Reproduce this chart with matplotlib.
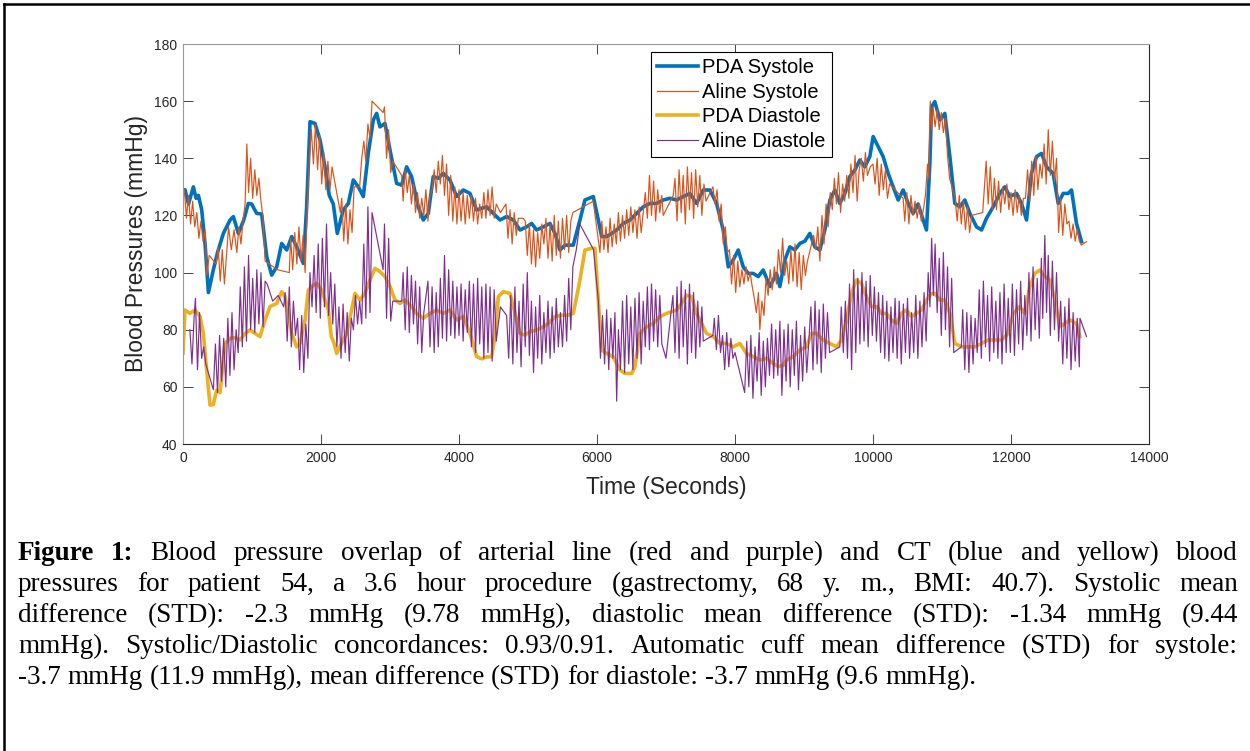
import matplotlib
matplotlib.use("Agg")
import matplotlib.pyplot as plt
from matplotlib.lines import Line2D

plt.rcParams['font.family'] = 'Liberation Sans'

# (time s, mmHg)
pda_sys = [(0, 128), (29, 129), (80, 124), (150, 130), (190, 126), (223, 127), (271, 122), (320, 110), (368, 93),
           (440, 101), (500, 107), (585, 113.7), (682, 118.4), (730, 119.6), (802, 113.7), (875, 118), (947, 124.2),
           (995, 124), (1068, 120.7), (1140, 120.5), (1213, 105.6), (1285, 99.1), (1358, 102), (1430, 110.2),
           (1503, 107.9), (1575, 112.6), (1648, 109), (1744, 103.2), (1792, 123), (1841, 152.8), (1913, 152.2),
           (1986, 146.4), (2058, 137), (2120, 127), (2178, 124), (2236, 113.7), (2323, 121.9), (2396, 124.2),
           (2468, 132.4), (2541, 130), (2613, 126.6), (2685, 141.7), (2758, 153.4), (2806, 155.7), (2855, 151),
           (2927, 152.2), (3000, 142.9), (3096, 131.2), (3168, 130.6), (3241, 137), (3313, 133.6), (3410, 123),
           (3482, 118.4), (3555, 120.7), (3627, 133.6), (3700, 133), (3772, 134.7), (3869, 132.4), (3965, 126.6),
           (4062, 128.9), (4159, 127.7), (4255, 121.9), (4328, 122.5), (4401, 123), (4497, 120.7), (4594, 118.4),
           (4690, 119.6), (4787, 118.4), (4884, 114.9), (4980, 116), (5053, 117.2), (5125, 114.9), (5222, 116),
           (5318, 117.2), (5391, 113.7), (5463, 107.9), (5536, 109.6), (5584, 109.6), (5656, 109.6), (5753, 118.4),
           (5825, 125.4), (5946, 126.6), (6019, 118.4), (6067, 112.6), (6139, 112.6), (6212, 113.7), (6284, 114.9),
           (6381, 117.2), (6478, 118.4), (6574, 120.7), (6670, 123), (6767, 124.2), (6863, 124.2), (6960, 125.4),
           (7057, 126), (7153, 125.4), (7250, 126.6), (7346, 127.7), (7443, 124.2), (7540, 128.9), (7636, 128.9),
           (7733, 124.2), (7829, 114.9), (7902, 102), (7974, 104.4), (8047, 107.9), (8119, 102), (8192, 99.7),
           (8264, 99.7), (8337, 98.6), (8409, 100.9), (8506, 95.1), (8602, 99.7), (8650, 95.1), (8722, 104.4),
           (8795, 109), (8867, 107.9), (8940, 110.2), (9012, 111), (9085, 113.7), (9157, 109), (9230, 107.9),
           (9302, 114.9), (9375, 125.4), (9447, 128.9), (9519, 124.2), (9592, 127.7), (9664, 133.6), (9737, 135.9),
           (9809, 139.4), (9882, 137), (9954, 140.6), (10002, 147.6), (10075, 144.1), (10147, 140.6), (10220, 134.7),
           (10292, 130), (10365, 125.4), (10437, 128.9), (10510, 124.2), (10582, 120.7), (10654, 124), (10727, 118.4),
           (10775, 114.9), (10824, 138.2), (10848, 158), (10896, 159.8), (10969, 153.4), (11041, 155.7),
           (11114, 140.6), (11186, 124.2), (11259, 123), (11331, 125.4), (11404, 120.7), (11500, 116), (11573, 114.9),
           (11645, 119), (11742, 123), (11838, 127.7), (11911, 130), (11983, 126.6), (12080, 127.7), (12152, 124.2),
           (12225, 118.4), (12297, 134.7), (12370, 140.6), (12442, 141.7), (12515, 137), (12611, 134.7),
           (12684, 124.2), (12756, 127.7), (12828, 127.7), (12877, 128.9), (12949, 117.2), (13022, 110.8)]

aline_sys = [(20, 129), (50, 119), (80, 127), (110, 117), (140, 125), (170, 116), (200, 121), (230, 112), (260, 118),
             (290, 111), (320, 115), (345, 99), (380, 106), (480, 103), (510, 109), (540, 97), (570, 108), (600, 96),
             (630, 106), (660, 116), (700, 108), (740, 115), (780, 107), (810, 116), (840, 110), (870, 118),
             (900, 124), (925, 145), (950, 128), (980, 140), (1010, 126), (1040, 136), (1070, 127), (1100, 133),
             (1130, 125), (1160, 119), (1190, 104), (1370, 101), (1540, 100), (1560, 112), (1590, 101), (1620, 114),
             (1650, 103), (1680, 116), (1710, 104), (1740, 113), (1770, 100), (1800, 122), (1830, 140), (1860, 150),
             (1890, 138), (1920, 152), (1950, 136), (1980, 148), (2010, 131), (2040, 142), (2070, 129), (2100, 139),
             (2130, 129), (2160, 137), (2280, 121), (2300, 126), (2330, 111), (2360, 124), (2390, 110), (2420, 122),
             (2450, 114), (2480, 130), (2560, 130), (2590, 140), (2620, 146), (2650, 139), (2680, 152), (2710, 147),
             (2740, 160), (2900, 156), (2920, 158), (2950, 140), (2980, 150), (3010, 135), (3040, 139), (3170, 134),
             (3190, 125), (3220, 136), (3250, 128), (3280, 134), (3310, 124), (3340, 131), (3370, 121), (3400, 128),
             (3430, 119), (3460, 126), (3490, 120), (3520, 129), (3550, 118), (3580, 127), (3610, 129), (3640, 136),
             (3670, 128), (3700, 139), (3730, 131), (3760, 141), (3790, 127), (3820, 138), (3850, 120), (3880, 134),
             (3910, 118), (3940, 130), (3970, 117), (4000, 129), (4030, 118), (4060, 128), (4090, 117), (4120, 127),
             (4150, 119), (4180, 127), (4210, 118), (4240, 126), (4270, 117), (4300, 124), (4330, 119), (4360, 128),
             (4390, 119), (4420, 129), (4450, 120), (4480, 130), (4510, 119), (4540, 124), (4600, 121), (4680, 124),
             (4710, 112), (4740, 122), (4770, 110), (4800, 121), (4830, 113), (4860, 119), (4930, 119), (4960, 118),
             (4990, 106), (5020, 117), (5050, 103), (5080, 115), (5110, 102), (5140, 114), (5170, 105), (5200, 117),
             (5230, 110), (5260, 119), (5290, 105), (5320, 117), (5350, 104), (5380, 120), (5410, 106), (5440, 118),
             (5470, 105), (5500, 119), (5530, 108), (5560, 120), (5590, 107), (5620, 118), (5650, 121), (5946, 125),
             (6043, 107), (6070, 118), (6100, 108), (6130, 116), (6160, 107), (6190, 119), (6220, 109), (6250, 117),
             (6280, 110), (6310, 121), (6340, 111), (6370, 120), (6400, 112), (6430, 122), (6460, 113), (6490, 123),
             (6520, 114), (6550, 122), (6580, 112), (6610, 123), (6640, 114), (6670, 121), (6700, 128), (6730, 119),
             (6760, 134), (6790, 120), (6820, 132), (6850, 118), (6880, 129), (6910, 121), (6940, 127), (6960, 120),
             (7105, 127), (7130, 133), (7160, 118), (7190, 136), (7220, 121), (7250, 134), (7280, 117), (7310, 137),
             (7340, 122), (7370, 135), (7400, 119), (7430, 136), (7460, 123), (7490, 134), (7520, 120), (7550, 131),
             (7580, 125), (7680, 130), (7710, 124), (7740, 129), (7770, 118), (7800, 124), (7830, 110), (7860, 116),
             (7890, 107), (7920, 108), (7950, 96), (7980, 106), (8010, 93), (8040, 104), (8070, 95), (8100, 101),
             (8130, 96), (8160, 102), (8190, 97), (8220, 100), (8250, 95), (8280, 91), (8310, 86), (8340, 93),
             (8360, 80), (8390, 90), (8420, 85), (8450, 98), (8480, 92), (8510, 101), (8540, 94), (8570, 102),
             (8600, 96), (8630, 108), (8660, 100), (8690, 112), (8720, 99), (8750, 104), (8780, 96), (8810, 108),
             (8840, 97), (8870, 110), (8900, 95), (8930, 107), (8960, 94), (8990, 106), (9020, 99), (9050, 104),
             (9140, 113), (9170, 108), (9200, 116), (9230, 104), (9260, 120), (9290, 110), (9320, 124), (9350, 116),
             (9380, 128), (9410, 122), (9440, 133), (9470, 124), (9500, 135), (9530, 121), (9560, 131), (9590, 125),
             (9620, 134), (9650, 126), (9680, 138), (9710, 128), (9740, 141), (9770, 125), (9800, 136), (9830, 140),
             (9860, 132), (9890, 142), (9920, 134), (9960, 137), (10000, 138), (10030, 131), (10060, 140),
             (10090, 127), (10120, 138), (10150, 129), (10180, 136), (10210, 126), (10240, 131), (10437, 126),
             (10460, 118), (10490, 128), (10520, 117), (10550, 127), (10580, 120), (10610, 125), (10640, 119),
             (10670, 124), (10700, 118), (10730, 122), (10760, 127), (10790, 138), (10810, 133), (10830, 160),
             (10850, 150), (10870, 158), (10900, 151), (10930, 157), (10960, 150), (10990, 156), (11020, 149),
             (11050, 154), (11080, 141), (11110, 133), (11190, 126), (11220, 118), (11250, 127), (11280, 117),
             (11310, 125), (11340, 115), (11370, 123), (11400, 114), (11430, 120), (11590, 121), (11610, 128),
             (11640, 139), (11670, 124), (11700, 137), (11730, 122), (11760, 133), (11790, 122), (11820, 132),
             (11850, 121), (11880, 130), (11910, 124), (11940, 131), (11970, 122), (12000, 128), (12030, 120),
             (12060, 129), (12090, 121), (12120, 127), (12150, 120), (12180, 126), (12210, 126), (12240, 136),
             (12270, 125), (12300, 139), (12330, 127), (12360, 141), (12390, 129), (12420, 138), (12450, 133),
             (12480, 145), (12510, 131), (12540, 150), (12570, 134), (12600, 146), (12630, 132), (12660, 140),
             (12690, 114), (12720, 126), (12750, 113), (12780, 124), (12810, 117), (12840, 118), (12870, 112),
             (12900, 117), (12930, 111), (12960, 115), (12990, 111), (13020, 109.6), (13094, 110.8)]

pda_dia = [(0, 71.7), (29, 86.9), (102, 85.7), (174, 86.9), (247, 84.6), (295, 78.7), (343, 65.9), (392, 53.6),
           (440, 53.8), (488, 58.9), (537, 58), (609, 75.2), (682, 77), (754, 77.2), (826, 76.4), (899, 78.7),
           (971, 79.9), (1044, 78.7), (1116, 77.6), (1189, 83.4), (1261, 88.1), (1358, 89.2), (1430, 93.3),
           (1479, 91.6), (1527, 85.7), (1575, 78.7), (1648, 74), (1696, 75.2), (1768, 83.4), (1817, 93.9),
           (1865, 95.1), (1937, 96.2), (2010, 93.9), (2106, 86.9), (2150, 77.6), (2190, 75.2), (2227, 71.7),
           (2299, 75.2), (2372, 78.7), (2444, 86.9), (2492, 92.7), (2565, 90.4), (2637, 92.7), (2710, 97.4),
           (2782, 101.5), (2855, 100.3), (2927, 98.6), (3000, 95.1), (3072, 90.4), (3144, 89.2), (3217, 90.4),
           (3313, 88.1), (3386, 85.7), (3482, 84), (3579, 85.7), (3676, 86.9), (3772, 85.7), (3869, 86.9),
           (3965, 83.4), (4062, 84.6), (4159, 78.7), (4255, 70.6), (4328, 69.8), (4401, 70.5), (4473, 70.5),
           (4521, 77.6), (4570, 91.6), (4642, 93.3), (4739, 92.7), (4811, 85.7), (4884, 78.7), (4956, 78.1),
           (5029, 79.3), (5125, 79.9), (5222, 81), (5294, 82.2), (5391, 84.6), (5487, 85.1), (5584, 85.1),
           (5656, 85.7), (5753, 97.4), (5825, 107.9), (5922, 108.5), (5970, 108.5), (6019, 90.4), (6067, 72.9),
           (6139, 71.7), (6236, 70.5), (6333, 65.9), (6405, 64.7), (6502, 64.7), (6549, 67), (6622, 78.7),
           (6718, 81), (6815, 82.2), (6912, 84.6), (7008, 85.7), (7081, 86.3), (7153, 86.9), (7226, 89.2),
           (7298, 92.1), (7371, 91.6), (7443, 85.7), (7515, 82.2), (7588, 78.7), (7685, 77.6), (7781, 75.2),
           (7878, 75.2), (7974, 74), (8071, 75.2), (8167, 71.7), (8264, 70.6), (8361, 69.4), (8457, 70),
           (8554, 68.2), (8626, 67.1), (8699, 67.5), (8747, 69.4), (8843, 70.6), (8940, 72.9), (9036, 74),
           (9109, 78.7), (9181, 78.7), (9278, 76.4), (9375, 75.2), (9471, 74), (9544, 76.4), (9616, 83.4),
           (9689, 92.7), (9761, 97.4), (9833, 96.2), (9906, 91.6), (9978, 88.1), (10051, 88.1), (10123, 85.7),
           (10196, 85.7), (10268, 83.4), (10341, 82.2), (10413, 85.7), (10485, 86.9), (10558, 84.6), (10630, 85.7),
           (10703, 86.9), (10775, 90.4), (10848, 92.7), (10896, 92.7), (10969, 90.4), (11041, 90.4), (11114, 85.7),
           (11186, 75.2), (11283, 74), (11379, 74), (11476, 74), (11573, 75.2), (11669, 76.4), (11766, 76.4),
           (11863, 76.4), (11959, 78.7), (12032, 85.7), (12128, 88.1), (12201, 85.7), (12273, 95.1), (12346, 99.7),
           (12418, 100.9), (12491, 98.6), (12563, 97.4), (12636, 90.4), (12708, 81), (12780, 82.2), (12853, 83.4),
           (12949, 82.2), (12997, 77.6)]

aline_dia = [(100, 80), (130, 68), (160, 84), (180, 91), (210, 66), (240, 86), (270, 70), (300, 74), (330, 68),
             (440, 59), (470, 75), (500, 58), (530, 78), (560, 62), (590, 77), (620, 60), (650, 84), (680, 64),
             (710, 86), (740, 66), (770, 80), (800, 72), (830, 95), (860, 74), (890, 102), (920, 76), (950, 106),
             (980, 80), (1010, 98), (1040, 79), (1070, 101), (1100, 82), (1130, 100), (1160, 81), (1190, 97),
             (1220, 96), (1300, 90), (1380, 92), (1460, 88), (1480, 93), (1510, 76), (1540, 95), (1570, 74),
             (1600, 90), (1630, 78), (1660, 84), (1690, 66), (1720, 85), (1750, 65), (1780, 82), (1810, 70),
             (1840, 100), (1870, 88), (1900, 106), (1930, 86), (1960, 110), (1990, 84), (2020, 112), (2050, 88),
             (2080, 117), (2110, 85), (2140, 100), (2170, 82), (2200, 96), (2230, 74), (2260, 88), (2290, 70),
             (2320, 89), (2350, 72), (2380, 86), (2410, 69), (2440, 84), (2470, 80), (2500, 92), (2530, 82),
             (2560, 90), (2590, 82), (2620, 110), (2650, 84), (2680, 123), (2710, 86), (2740, 121), (2900, 101),
             (2920, 117), (2950, 84), (2980, 112), (3010, 83), (3040, 90), (3170, 90), (3190, 100), (3220, 80),
             (3250, 102), (3280, 79), (3310, 99), (3340, 82), (3370, 97), (3400, 75), (3430, 95), (3460, 72),
             (3490, 86), (3550, 97), (3580, 74), (3610, 95), (3640, 72), (3670, 93), (3700, 74), (3730, 98),
             (3760, 77), (3790, 106), (3820, 76), (3850, 101), (3880, 78), (3910, 97), (3940, 77), (3970, 95),
             (4000, 78), (4030, 96), (4060, 76), (4090, 94), (4120, 79), (4150, 97), (4180, 74), (4210, 96),
             (4240, 72), (4270, 98), (4300, 75), (4330, 95), (4360, 70), (4390, 96), (4420, 72), (4450, 95),
             (4480, 69), (4510, 94), (4540, 76), (4600, 88), (4690, 85), (4720, 70), (4750, 92), (4780, 68),
             (4810, 95), (4840, 72), (4870, 90), (4900, 67), (4930, 96), (4960, 74), (4990, 100), (5020, 71),
             (5050, 90), (5080, 65), (5110, 88), (5140, 70), (5170, 92), (5200, 68), (5230, 86), (5260, 72),
             (5290, 90), (5320, 70), (5350, 88), (5380, 72), (5410, 91), (5440, 74), (5470, 86), (5500, 74),
             (5530, 92), (5560, 76), (5590, 98), (5620, 80), (5650, 102), (5700, 108), (5750, 117), (5950, 108),
             (6020, 90), (6050, 70), (6080, 85), (6110, 68), (6140, 87), (6170, 66), (6200, 84), (6230, 70),
             (6260, 86), (6285, 55), (6310, 80), (6340, 66), (6370, 90), (6400, 65), (6430, 92), (6460, 68),
             (6490, 88), (6520, 66), (6550, 91), (6580, 70), (6610, 93), (6640, 68), (6670, 90), (6700, 74),
             (6730, 95), (6760, 73), (6790, 96), (6820, 76), (6850, 94), (6880, 74), (6910, 92), (6940, 75),
             (7000, 70), (7100, 92), (7130, 72), (7160, 95), (7190, 70), (7220, 97), (7250, 74), (7280, 94),
             (7310, 68), (7340, 96), (7370, 72), (7400, 93), (7430, 70), (7460, 90), (7490, 74), (7520, 88),
             (7540, 76), (7680, 78), (7700, 84), (7730, 73), (7760, 85), (7790, 72), (7820, 78), (7850, 66),
             (7880, 79), (7910, 67), (7940, 77), (7970, 70), (8000, 72), (8140, 58), (8170, 76), (8200, 60),
             (8230, 78), (8260, 56), (8290, 74), (8320, 62), (8350, 79), (8380, 57), (8410, 76), (8440, 60),
             (8470, 77), (8500, 64), (8530, 82), (8560, 63), (8590, 80), (8620, 64), (8650, 83), (8680, 57),
             (8710, 80), (8740, 62), (8770, 82), (8800, 60), (8830, 80), (8860, 64), (8890, 83), (8920, 59),
             (8950, 78), (8980, 62), (9010, 81), (9040, 65), (9070, 76), (9100, 88), (9130, 66), (9160, 90),
             (9190, 68), (9220, 87), (9250, 65), (9280, 89), (9310, 70), (9340, 86), (9370, 72), (9519, 74),
             (9540, 88), (9570, 72), (9600, 90), (9630, 70), (9660, 96), (9690, 66), (9720, 101), (9750, 72),
             (9780, 98), (9810, 75), (9840, 100), (9870, 76), (9900, 97), (9930, 74), (9960, 99), (9990, 78),
             (10020, 95), (10050, 76), (10080, 93), (10110, 72), (10140, 92), (10170, 70), (10200, 90), (10230, 69),
             (10260, 88), (10290, 72), (10320, 91), (10350, 70), (10380, 90), (10410, 68), (10440, 89), (10470, 72),
             (10500, 91), (10530, 70), (10560, 86), (10590, 72), (10620, 92), (10650, 70), (10680, 90), (10710, 74),
             (10740, 93), (10770, 76), (10800, 100), (10825, 88), (10850, 112), (10875, 92), (10900, 110),
             (10930, 86), (10960, 105), (10990, 78), (11020, 107), (11050, 80), (11080, 102), (11110, 74),
             (11140, 98), (11170, 72), (11280, 74), (11300, 87), (11330, 66), (11360, 86), (11390, 65), (11420, 85),
             (11450, 68), (11480, 84), (11510, 72), (11540, 94), (11570, 70), (11600, 97), (11630, 74), (11660, 92),
             (11690, 69), (11720, 95), (11750, 72), (11780, 90), (11810, 70), (11840, 93), (11870, 68), (11900, 96),
             (11930, 72), (11960, 91), (11990, 72), (12020, 96), (12050, 71), (12080, 94), (12110, 75), (12140, 97),
             (12170, 73), (12200, 92), (12230, 78), (12260, 100), (12290, 76), (12320, 102), (12350, 80),
             (12380, 98), (12410, 77), (12440, 105), (12460, 84), (12490, 113), (12515, 86), (12540, 106),
             (12570, 78), (12600, 104), (12630, 80), (12660, 100), (12690, 76), (12720, 90), (12750, 68), (12780, 88),
             (12810, 70), (12840, 91), (12870, 66), (12900, 86), (12930, 69), (12960, 84), (12990, 67), (13000, 84),
             (13094, 77.6)]

series_labels = ['PDA Systole', 'Aline Systole', 'PDA Diastole', 'Aline Diastole']
series_colors = ['#0072BD', '#D95319', '#EDB120', '#7E2F8E']
series_widths = [2.6, 0.85, 2.6, 0.85]

x_ticks = [0, 2000, 4000, 6000, 8000, 10000, 12000, 14000]
y_ticks = [40, 60, 80, 100, 120, 140, 160, 180]

caption_lines = [
    "Figure 1: Blood pressure overlap of arterial line (red and purple) and CT (blue and yellow) blood",
    "pressures for patient 54,  a 3.6 hour procedure (gastrectomy, 68 y. m., BMI: 40.7). Systolic mean",
    "difference (STD): -2.3 mmHg (9.78 mmHg), diastolic mean difference (STD): -1.34 mmHg (9.44",
    "mmHg). Systolic/Diastolic concordances: 0.93/0.91. Automatic cuff mean difference (STD) for systole:",
    "-3.7 mmHg (11.9 mmHg), mean difference (STD) for diastole: -3.7 mmHg (9.6 mmHg).",
]
caption_size = 19.5

W, H = 1250, 751
fig = plt.figure(figsize=(W / 100, H / 100), dpi=100)
ax = fig.add_axes([183 / W, 1 - 444 / H, 966 / W, 400 / H])

for pts, color, lw, label in zip([pda_sys, aline_sys, pda_dia, aline_dia],
                                 series_colors, series_widths, series_labels):
    t = [p[0] for p in pts]
    v = [p[1] for p in pts]
    ax.plot(t, v, color=color, lw=lw, label=label, solid_joinstyle='round')

ax.set_xlim(0, 14000)
ax.set_ylim(40, 180)
ax.set_xticks(x_ticks)
ax.set_yticks(y_ticks)
ax.tick_params(direction='in', length=7, width=0.6, top=True, right=True,
               labelsize=10, colors='#262626')
ax.tick_params(axis='x', pad=5)
ax.tick_params(axis='y', pad=4)
for side in ['left', 'top']:
    ax.spines[side].set_color('#9a9a9a')
for side in ['bottom', 'right']:
    ax.spines[side].set_color('#262626')
for s in ax.spines.values():
    s.set_linewidth(0.8)

ax.set_xlabel('Time (Seconds)', fontsize=16.5, color='#262626')
ax.set_ylabel('Blood Pressures (mmHg)', fontsize=16.5, color='#262626')
ax.xaxis.set_label_coords(0.5, -0.08)
ax.yaxis.set_label_coords(-0.036, 0.5)

leg = ax.legend(loc='upper left', bbox_to_anchor=(0.4845, 0.98), borderaxespad=0,
                fontsize=14.5, fancybox=False, framealpha=1, edgecolor='black',
                handlelength=2.05, handletextpad=0.2, labelspacing=0.28, borderpad=0.3)
leg.get_frame().set_linewidth(0.8)

# frame lines of the page
fig.add_artist(Line2D([4 / W, 1], [1 - 4 / H, 1 - 4 / H], transform=fig.transFigure, color='black', lw=1.8))
fig.add_artist(Line2D([4 / W, 4 / W], [0, 1 - 4 / H], transform=fig.transFigure, color='black', lw=1.8))

# justified caption
renderer = fig.canvas.get_renderer()
left, right = 18, 1238
space_px = 0.25 * caption_size * 100 / 72
for i, line in enumerate(caption_lines):
    y = 1 - (560 + 31 * i) / H
    words = line.split()
    arts = []
    for j, w in enumerate(words):
        weight = 'bold' if (i == 0 and j < 2) else 'normal'
        arts.append(fig.text(0, y, w, fontsize=caption_size, family='Liberation Serif',
                             fontweight=weight, va='baseline', ha='left'))
    widths = [a.get_window_extent(renderer).width for a in arts]
    if i < len(caption_lines) - 1:
        gap = (right - left - sum(widths)) / (len(words) - 1)
    else:
        gap = space_px
    x = left
    for a, w in zip(arts, widths):
        a.set_x(x / W)
        x += w + gap

fig.savefig('out.png', dpi=100)
